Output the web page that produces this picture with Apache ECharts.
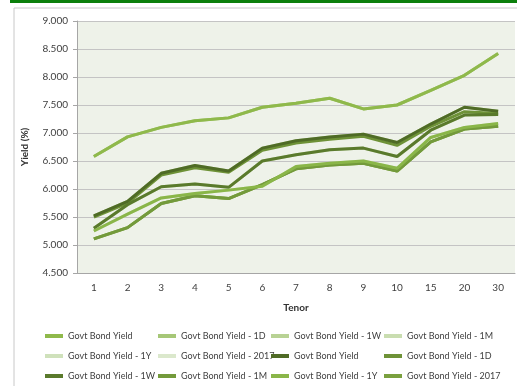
<!DOCTYPE html>
<html>
<head>
<meta charset="utf-8">
<script src="https://cdn.jsdelivr.net/npm/echarts@6/dist/echarts.min.js"></script>
<style>
  html, body { margin: 0; padding: 0; background: #fff; }
  #main { width: 517px; height: 386px; }
</style>
</head>
<body>
<div id="main"></div>
<script>
// 期限
var tenors = ['1', '2', '3', '4', '5', '6', '7', '8', '9', '10', '15', '20', '30'];

// 收益率
var yieldA  = [6.58, 6.93, 7.10, 7.22, 7.27, 7.46, 7.53, 7.62, 7.43, 7.50, 7.76, 8.03, 8.42];
var yieldB  = [5.52, 5.78, 6.28, 6.42, 6.32, 6.73, 6.86, 6.93, 6.98, 6.83, 7.16, 7.46, 7.39];
var yieldB2 = [5.50, 5.75, 6.25, 6.38, 6.30, 6.69, 6.82, 6.89, 6.94, 6.78, 7.12, 7.38, 7.35];
var yieldC  = [5.30, 5.72, 6.04, 6.09, 6.03, 6.50, 6.61, 6.70, 6.73, 6.58, 7.05, 7.32, 7.33];
var yieldD  = [5.25, 5.55, 5.84, 5.92, 5.98, 6.05, 6.40, 6.46, 6.50, 6.37, 6.92, 7.10, 7.17];
var yieldE  = [5.11, 5.31, 5.74, 5.88, 5.83, 6.08, 6.36, 6.43, 6.46, 6.32, 6.84, 7.07, 7.12];

var seriesNames = [
    'Govt Bond Yield', 'Govt Bond Yield - 1D', 'Govt Bond Yield - 1W', 'Govt Bond Yield - 1M',
    'Govt Bond Yield - 1Y', 'Govt Bond Yield - 2017', 'Govt Bond Yield ', 'Govt Bond Yield - 1D ',
    'Govt Bond Yield - 1W ', 'Govt Bond Yield - 1M ', 'Govt Bond Yield - 1Y ', 'Govt Bond Yield - 2017 '
];
var seriesData = [yieldA, yieldA, yieldB, yieldC, yieldD, yieldE, yieldB, yieldB2, yieldC, yieldE, yieldD, yieldE];
var seriesColors = ['#8fb94b', '#a6c777', '#b8d294', '#c9ddb0', '#cfe1bb', '#dbe8cc',
                    '#4f6b26', '#6e9237', '#5a7a2c', '#739a3b', '#8ab649', '#7aa03e'];
var seriesZ = [3, 1, 1, 1, 1, 1, 3, 2, 3, 3, 3, 2];

var myChart = echarts.init(document.getElementById('main'));

var series = [];
for (var i = 0; i < seriesNames.length; i++) {
    series.push({
        name: seriesNames[i],
        type: 'line',
        data: seriesData[i],
        symbol: 'none',
        z: seriesZ[i],
        color: seriesColors[i],
        lineStyle: { width: 3, color: seriesColors[i] }
    });
}

// 图例分四列
var colLeft = [45, 158, 271, 384];
var legends = [];
for (var c = 0; c < 4; c++) {
    legends.push({
        orient: 'vertical',
        left: colLeft[c],
        top: 330,
        padding: 0,
        itemWidth: 18,
        itemHeight: 4,
        itemGap: 8,
        icon: 'rect',
        selectedMode: false,
        textStyle: { fontFamily: 'Lato', fontSize: 9, lineHeight: 12, color: '#404040' },
        data: [seriesNames[c], seriesNames[c + 4], seriesNames[c + 8]]
    });
}

var option = {
    animation: false,
    backgroundColor: '#fff',
    graphic: [
        { type: 'rect', shape: { x: 10, y: 0, width: 520, height: 3 }, style: { fill: '#0b7f0b' } },
        { type: 'rect', shape: { x: 14, y: 8, width: 520, height: 400 }, style: { fill: 'none', stroke: '#c8c8c8', lineWidth: 1 } }
    ],
    grid: {
        left: 77, right: 2, top: 21, bottom: 113,
        show: true,
        backgroundColor: '#eef2e9',
        borderWidth: 0
    },
    legend: legends,
    xAxis: {
        type: 'category',
        data: tenors,
        boundaryGap: true,
        name: 'Tenor',
        nameLocation: 'middle',
        nameGap: 30,
        nameTextStyle: { fontFamily: 'Lato', fontSize: 10, fontWeight: 'bold', color: '#333' },
        axisLine: { lineStyle: { color: '#a6a6a6' } },
        axisTick: { length: 4, lineStyle: { color: '#a6a6a6' } },
        axisLabel: { fontFamily: 'Lato', fontSize: 10, color: '#404040', margin: 10 }
    },
    yAxis: {
        type: 'value',
        min: 4.5,
        max: 9,
        interval: 0.5,
        name: 'Yield (%)',
        nameLocation: 'middle',
        nameGap: 47,
        nameTextStyle: { fontFamily: 'Lato', fontSize: 10, fontWeight: 'bold', color: '#333' },
        axisLine: { show: true, lineStyle: { color: '#a6a6a6' } },
        axisTick: { show: true, length: 4, lineStyle: { color: '#a6a6a6' } },
        axisLabel: {
            fontFamily: 'Lato', fontSize: 10, color: '#404040', margin: 9,
            formatter: function (v) { return v.toFixed(3); }
        },
        splitLine: { lineStyle: { color: '#c4c4c4', width: 1 } }
    },
    series: series
};

myChart.setOption(option);
</script>
</body>
</html>
